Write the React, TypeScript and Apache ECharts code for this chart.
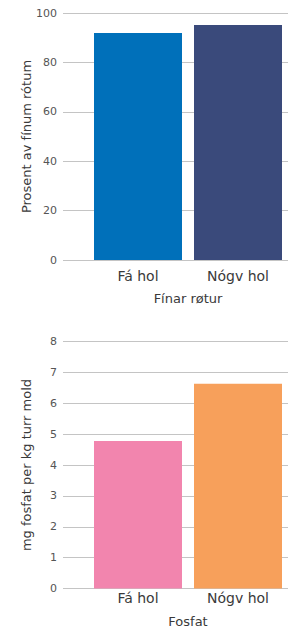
import React, { useEffect, useRef } from "react";
import * as echarts from "echarts";

const categories = ["Fá hol", "Nógv hol"];
const rootValues = [91.9, 95.1];
const phosphateValues = [4.78, 6.63];
const rootColors = ["#0070BA", "#3A4A7B"];
const phosphateColors = ["#F285AE", "#F7A05B"];
const rootTicks = { min: 0, max: 100, interval: 20 };
const phosphateTicks = { min: 0, max: 8, interval: 1 };

const FONT = "DejaVu Sans";

export default function App() {
  const ref = useRef<HTMLDivElement>(null);
  useEffect(() => {
    document.body.style.margin = "0";
    const chart = echarts.init(ref.current!, undefined, { renderer: "svg" });
    const gridTop = [13, 341.5];
    const gridH = [247, 247];
    const grids: any[] = [];
    for (let i = 0; i < 2; i++) {
      grids.push({ left: 63, right: 6, top: gridTop[i], height: gridH[i] });
      grids.push({ left: 88, right: 6, top: gridTop[i], height: gridH[i] });
    }
    const ticks = [rootTicks, phosphateTicks];
    const yNames = ["Prosent av fínum rótum", "mg fosfat per kg turr mold"];
    const xNames = ["Fínar røtur", "Fosfat"];
    const xNameGap = [32, 26];
    const xLabelMargin = [9, 2];
    const yAxes: any[] = [];
    const xAxes: any[] = [];
    for (let i = 0; i < 2; i++) {
      yAxes.push({
        type: "value",
        gridIndex: i * 2,
        ...ticks[i],
        name: yNames[i],
        nameLocation: "middle",
        nameGap: 30,
        nameMoveOverlap: false,
        nameTextStyle: { fontFamily: FONT, fontSize: 13, color: "#3a3a3a" },
        axisLine: { show: false },
        axisTick: { show: false },
        axisLabel: { fontFamily: FONT, fontSize: 11, color: "#555", margin: 6 },
        splitLine: { lineStyle: { color: "#c4c4c4", width: 1 } },
      });
      yAxes.push({
        type: "value",
        gridIndex: i * 2 + 1,
        ...ticks[i],
        show: false,
        splitLine: { show: false },
      });
      xAxes.push({
        type: "value",
        gridIndex: i * 2,
        show: false,
        splitLine: { show: false },
      });
      xAxes.push({
        type: "category",
        gridIndex: i * 2 + 1,
        data: categories,
        name: xNames[i],
        nameLocation: "middle",
        nameGap: xNameGap[i],
        nameMoveOverlap: false,
        nameTextStyle: { fontFamily: FONT, fontSize: 13, color: "#3a3a3a" },
        axisLine: { show: false },
        axisTick: { show: false },
        axisLabel: { fontFamily: FONT, fontSize: 14, color: "#3a3a3a", margin: xLabelMargin[i] },
      });
    }
    chart.setOption({
      animation: false,
      grid: grids,
      xAxis: xAxes,
      yAxis: yAxes,
      series: [
        {
          type: "bar",
          xAxisIndex: 1,
          yAxisIndex: 1,
          barCategoryGap: "12%",
          data: rootValues.map((v, k) => ({ value: v, itemStyle: { color: rootColors[k] } })),
        },
        {
          type: "bar",
          xAxisIndex: 3,
          yAxisIndex: 3,
          barCategoryGap: "12%",
          data: phosphateValues.map((v, k) => ({ value: v, itemStyle: { color: phosphateColors[k] } })),
        },
      ],
    });
    return () => chart.dispose();
  }, []);
  return <div ref={ref} style={{ width: 294, height: 631 }} />;
}
